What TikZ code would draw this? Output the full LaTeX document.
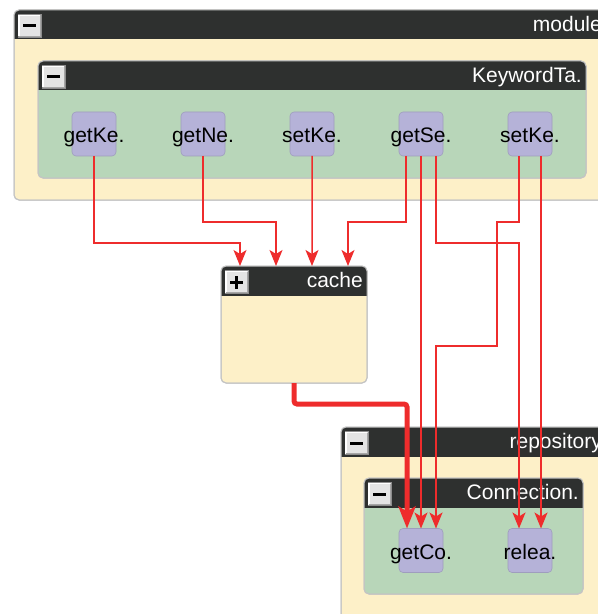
\documentclass[tikz,border=0pt]{standalone}
\usepackage{fontspec}
\setmainfont{Liberation Sans}
\usetikzlibrary{arrows.meta,calc}

\definecolor{hdr}{RGB}{46,48,47}
\definecolor{cream}{RGB}{253,240,200}
\definecolor{sage}{RGB}{184,214,185}
\definecolor{lilac}{RGB}{181,178,216}
\definecolor{wire}{RGB}{238,44,44}
\definecolor{rim}{RGB}{196,196,196}
\definecolor{btnface}{RGB}{228,228,228}
\definecolor{btnedge}{RGB}{140,140,140}

\tikzset{
  big/.style={font=\fontsize{21bp}{25bp}\selectfont},
  panelbox/.style={draw=rim, line width=1bp, rounded corners=5bp,
    anchor=north west, inner sep=0, outer sep=0},
  btn/.style={fill=btnface, draw=btnedge, line width=0.8bp,
    minimum size=23bp, inner sep=0, outer sep=0},
  title/.style={big, anchor=base east, inner sep=0, text=white},
  meth/.style={draw=lilac!88!black, fill=lilac, line width=0.6bp,
    rounded corners=4bp, minimum width=44bp, minimum height=44bp,
    inner sep=0, outer sep=0},
  mlabel/.style={big, anchor=base, inner sep=0},
  flow/.style={draw=wire, line width=1.5bp,
    -{Stealth[length=16bp,width=13bp,inset=4bp]}},
  bigflow/.style={draw=wire, line width=5bp, rounded corners=3bp,
    -{Stealth[length=22bp,width=17bp,inset=5bp]}},
}

% container with dark title bar and a collapse/expand button
% #1 name, #2 x1, #3 y1, #4 x2, #5 y2, #6 fill, #7 title, #8 plus/minus
\newcommand\panel[8]{%
  \node[panelbox, fill=#6, minimum width={(#4-#2)*1bp},
        minimum height={(#5-#3)*1bp}] (#1) at (#2,#3) {};
  \begin{scope}
    \clip (#2,#3) rectangle (#4,#3+29);
    \fill[hdr, rounded corners=5bp] (#2,#3) rectangle (#4,#3+45);
  \end{scope}
  \draw[rim, line width=1bp, rounded corners=5bp] (#1.north west) rectangle (#1.south east);
  \node[btn] (#1-btn) at (#2+15.5,#3+16) {};
  \draw[white, line width=1.2bp]
    ([shift={(1bp,1bp)}]#1-btn.south west) -- ([shift={(1bp,-1bp)}]#1-btn.north west)
    -- ([shift={(-1bp,-1bp)}]#1-btn.north east);
  \draw[black!35, line width=1bp]
    ([shift={(-1bp,-1bp)}]#1-btn.north east) -- ([shift={(-1bp,1bp)}]#1-btn.south east)
    -- ([shift={(1bp,1bp)}]#1-btn.south west);
  \draw[black, line width=3bp] ([xshift=-6.5bp]#1-btn.center) -- ([xshift=6.5bp]#1-btn.center);
  \ifx#8+\draw[black, line width=3bp] ([yshift=-6.5bp]#1-btn.center) -- ([yshift=6.5bp]#1-btn.center);\fi
  \node[title] (#1-title) at (#4-4,#3+21.5) {#7};
}

\begin{document}
\begin{tikzpicture}[x=1bp,y=-1bp]
  \useasboundingbox (0,0) rectangle (598,614);
  \clip (0,0) rectangle (598,614);

  % containers
  \panel{module}{14}{10}{606}{200}{cream}{module}{-}
  \panel{kwt}{38}{61}{586}{178}{sage}{KeywordTa.}{-}
  \panel{cache}{221}{266}{367}{383}{cream}{cache}{+}
  \panel{repo}{341}{427}{606}{640}{cream}{repository}{-}
  \panel{conn}{364}{478}{583}{594}{sage}{Connection.}{-}

  % methods of KeywordTa.
  \node[meth] (getKe) at (94,134) {};
  \node[meth] (getNe) at (203,134) {};
  \node[meth] (setKeA) at (312,134) {};
  \node[meth] (getSe) at (421,134) {};
  \node[meth] (setKeB) at (530,134) {};
  \node[mlabel] (getKe-l) at ([yshift=-9bp]getKe.center) {getKe.};
  \node[mlabel] (getNe-l) at ([yshift=-9bp]getNe.center) {getNe.};
  \node[mlabel] (setKeA-l) at ([yshift=-9bp]setKeA.center) {setKe.};
  \node[mlabel] (getSe-l) at ([yshift=-9bp]getSe.center) {getSe.};
  \node[mlabel] (setKeB-l) at ([yshift=-9bp]setKeB.center) {setKe.};

  % methods of Connection.
  \node[meth] (getCo) at (421,550.5) {};
  \node[meth] (relea) at (530,550.5) {};
  \node[mlabel] (getCo-l) at ([yshift=-9bp]getCo.center) {getCo.};
  \node[mlabel] (relea-l) at ([yshift=-9bp]relea.center) {relea.};

  % entry points
  \coordinate (cIn1) at ([xshift=-54bp]cache.north);
  \coordinate (cIn2) at ([xshift=-18bp]cache.north);
  \coordinate (cIn3) at ([xshift=18bp]cache.north);
  \coordinate (cIn4) at ([xshift=54bp]cache.north);
  \coordinate (gIn1) at ([xshift=-14bp]getCo.north);
  \coordinate (gIn2) at (getCo.north);
  \coordinate (gIn3) at ([xshift=15bp]getCo.north);
  \coordinate (rIn1) at ([xshift=-11bp]relea.north);
  \coordinate (rIn2) at ([xshift=11bp]relea.north);

  % calls
  \draw[flow] (getKe.south) -- ++(0,87) -| (cIn1);
  \draw[flow] (getNe.south) -- ++(0,66) -| (cIn2);
  \draw[flow] (setKeA.south) -- (cIn3);
  \draw[flow] ([xshift=-15bp]getSe.south) -- ++(0,66) -| (cIn4);
  \draw[flow] (getSe.south) -- (gIn2);
  \draw[flow] ([xshift=15bp]getSe.south) -- ++(0,87) -| (rIn1);
  \draw[flow] ([xshift=-11bp]setKeB.south) -- ++(0,66) -- ++(-22,0)
    -- ++(0,124) -| (gIn3);
  \draw[flow] ([xshift=11bp]setKeB.south) -- (rIn2);
  \draw[bigflow] (cache.south) -- ++(0,21) -| (gIn1);
\end{tikzpicture}
\end{document}
